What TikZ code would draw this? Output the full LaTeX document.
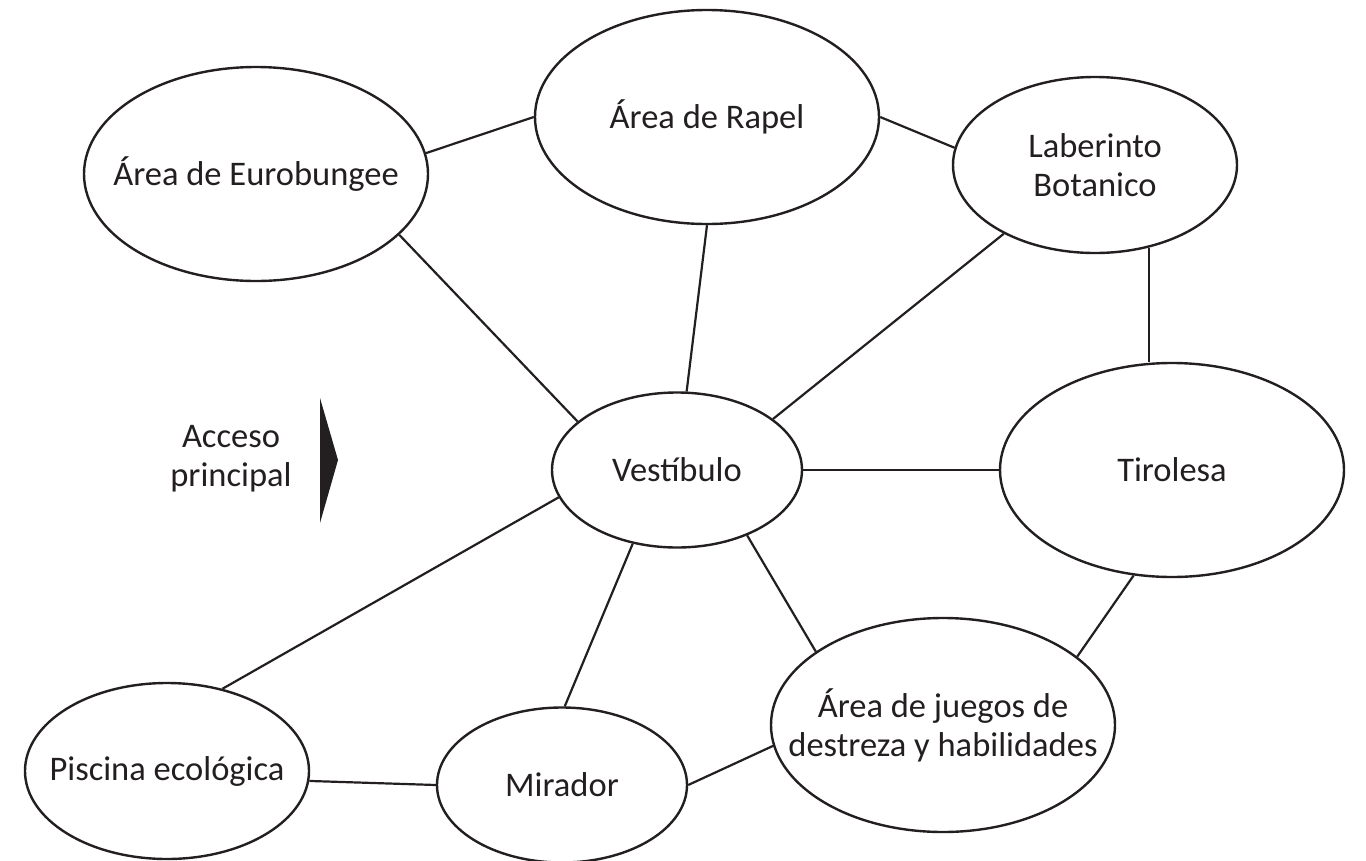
\documentclass[tikz,border=0pt]{standalone}
\usepackage{fontspec}
\setmainfont{Carlito}
\usetikzlibrary{shapes.geometric}
\definecolor{ink}{HTML}{231F20}
\tikzset{
  spot/.style ={ellipse, draw=ink, line width=2.4pt, inner sep=0pt},
  big/.style  ={spot, minimum width=344pt, minimum height=214pt},
  mid/.style  ={spot, minimum width=284pt, minimum height=176pt},
  small/.style={spot, minimum width=250pt, minimum height=155pt},
  nm/.style   ={font=\fontsize{34.5}{39}\selectfont, text=ink, align=center},
  link/.style ={draw=ink, line width=2.2pt},
  gate/.style ={fill=ink},
}

\begin{document}
\begin{tikzpicture}[x=1pt,y=-1pt]
  \useasboundingbox (0,0) rectangle (1366,860);

  % ---------------------------------------------------------------- areas
  \node[big]   (euro)  at (256,174) {};
  \node[big]   (rapel) at (707,117) {};
  \node[mid]   (lab)   at (1095,165) {};
  \node[big]   (tir)   at (1172,470) {};
  \node[small] (vest)  at (677,470) {};
  \node[big]   (jue)   at (943,725) {};
  \node[small] (mir)   at (562,785) {};
  \node[mid]   (pis)   at (167,771) {};

  % ---------------------------------------------------------------- names
  \node[nm] (euron)  at (euro)  {Área de Eurobungee};
  \node[nm] (rapeln) at (rapel) {Área de Rapel};
  \node[nm] (labn)   at (lab)   {Laberinto\\Botanico};
  \node[nm] (tirn)   at (tir)   {Tirolesa};
  \node[nm] (vestn)  at (vest)  {Vestíbulo};
  \node[nm] (juen)   at (jue)   {Área de juegos de\\destreza y habilidades};
  \node[nm] (mirn)   at (mir)   {Mirador};
  \node[nm] (pisn)   at (pis)   {Piscina ecológica};

  % entrance
  \node[nm] (acc) at (231,459) {Acceso\\principal};
  \fill[gate] (320,398) -- (338,460) -- (320,523) -- cycle;

  % ---------------------------------------------------------------- links
  \draw[link] (euro.7)    -- (rapel.180);
  \draw[link] (euro.-23)  -- (vest.154);
  \draw[link] (rapel.0)   -- (lab.173);
  \draw[link] (rapel.-90) -- (vest.83);
  \draw[link] (lab.-143)  -- (vest.28);
  \draw[link] (lab.-57)   -- (lab.-57 |- tir.north);
  \draw[link] (vest.east) -- (tir.west);
  \draw[link] (vest.193)  -- (pis.56);
  \draw[link] (vest.-121) -- (mir.88);
  \draw[link] (vest.-43)  -- (jue.150);
  \draw[link] (tir.-110)  -- (jue.27);
  \draw[link] (pis.-4)    -- (mir.180);
  \draw[link] (mir.0)     -- (jue.187);
\end{tikzpicture}
\end{document}
